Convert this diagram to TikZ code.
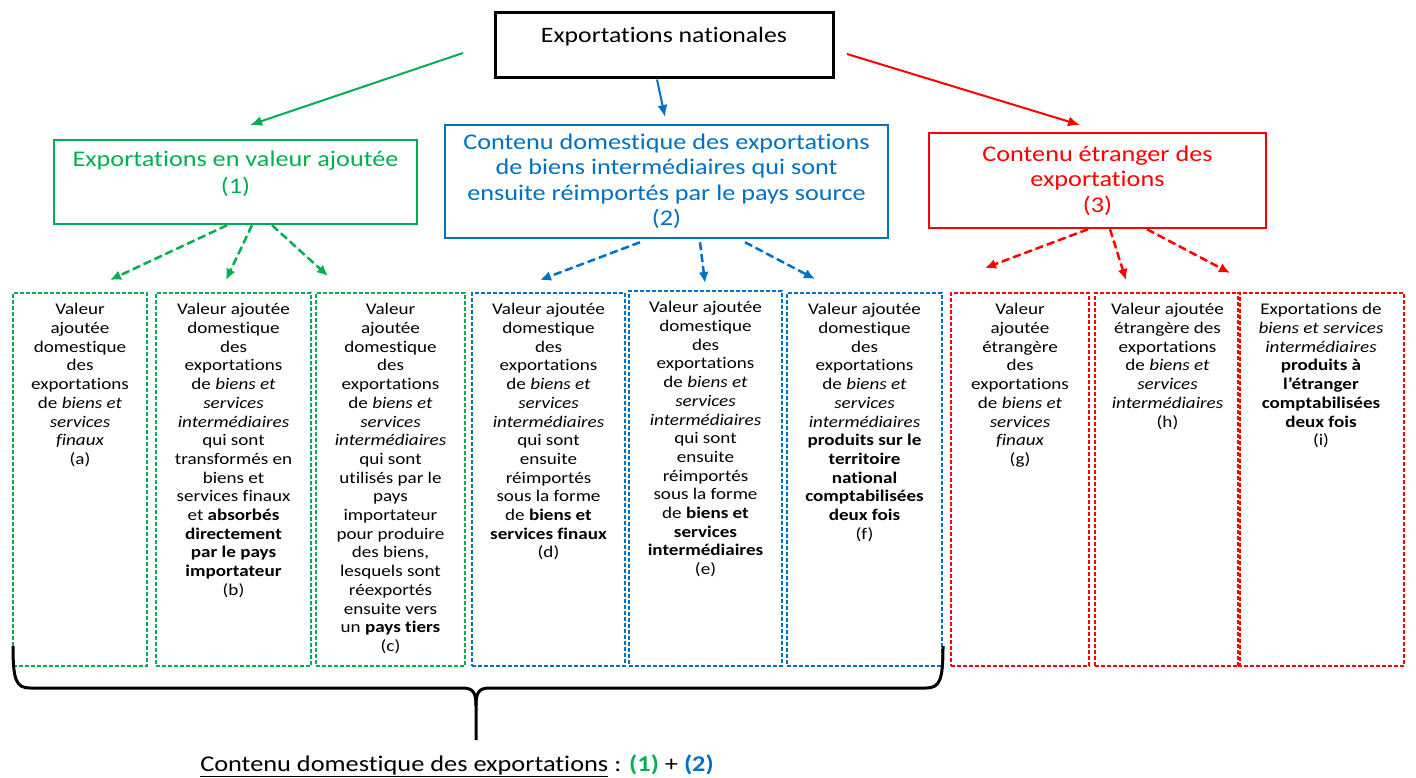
\documentclass[tikz,border=0pt]{standalone}
\usepackage{fontspec}
\setmainfont{Carlito}[FakeStretch=1.17, Ligatures=NoCommon]
\usetikzlibrary{arrows.meta}
\definecolor{eGreen}{RGB}{0,176,80}
\definecolor{eBlue}{RGB}{0,112,192}
\definecolor{eRed}{RGB}{255,0,0}
\tikzset{
    rootbox/.style={draw, line width=3pt, inner sep=0pt, minimum width=338pt, minimum height=65pt},
    groupbox/.style={draw=#1, text=#1, line width=2.5pt, inner sep=0pt, align=center, font=\fontsize{22.4}{25.5}\selectfont},
    leafbox/.style={draw=#1, line width=1.3pt, dash pattern=on 4pt off 2pt, inner sep=0pt, minimum height=373pt},
    leaftext/.style={anchor=north, inner sep=0pt, align=center, font=\fontsize{16.3}{18.7}\selectfont},
    mainarrow/.style={draw=#1, fill=#1, line width=2pt, -{Latex[length=12pt,width=10pt]}},
    subarrow/.style={draw=#1, fill=#1, line width=2.5pt, dash pattern=on 8pt off 4pt, -{Latex[length=11pt,width=10pt]}}
}

\begin{document}
\begin{tikzpicture}[x=1pt,y=-1pt]
\useasboundingbox (0,0) rectangle (1416,778);
\node[rootbox] (nat) at (664,45.5) {};
\node[font=\fontsize{22}{26}\selectfont] (natT) at (664,37) {Exportations nationales};
\node[groupbox=eGreen, minimum width=363pt, minimum height=84pt, font=\fontsize{22.4}{27}\selectfont] (va) at (235.5,182) {Exportations en valeur ajoutée\\(1)\\[-8pt]\mbox{}};
\node[groupbox=eBlue, minimum width=443pt, minimum height=113pt] (cdr) at (666.5,181.5) {Contenu domestique des exportations\\de biens intermédiaires qui sont\\ensuite réimportés par le pays source\\(2)};
\node[groupbox=eRed, minimum width=337pt, minimum height=95pt] (ce) at (1097.5,180.5) {Contenu étranger des\\exportations\\(3)};
\coordinate (gStart) at (463,53);
\coordinate (gEnd) at (250,125);
\coordinate (bEnd) at (665,117);
\coordinate (rStart) at (847,54);
\coordinate (rEnd) at (1080,125);
\draw[mainarrow=eGreen] (gStart) -- (gEnd);
\draw[mainarrow=eBlue] ([xshift=-7pt]nat.south) -- (bEnd);
\draw[mainarrow=eRed] (rStart) -- (rEnd);
\node[leafbox=eGreen, minimum width=134pt] (a) at (80,479.5) {};
\node[leafbox=eGreen, minimum width=155pt] (b) at (233.5,479.5) {};
\node[leafbox=eGreen, minimum width=149pt] (c) at (390.5,479.5) {};
\node[leafbox=eBlue, minimum width=153pt] (d) at (548.5,479.5) {};
\node[leafbox=eBlue, minimum width=153pt, minimum height=375pt] (e) at (705.5,478.5) {};
\node[leafbox=eBlue, minimum width=155pt] (f) at (864.5,479.5) {};
\node[leafbox=eRed, minimum width=138pt] (g) at (1020,479.5) {};
\node[leafbox=eRed, minimum width=145pt] (h) at (1167.5,479.5) {};
\node[leafbox=eRed, minimum width=166pt] (i) at (1321,479.5) {};
\node[leaftext] (aT) at ([yshift=-11pt]a.north) {Valeur\\ajoutée\\domestique\\des\\exportations\\de \textit{biens et}\\\textit{services}\\\textit{finaux}\\(a)};
\node[leaftext] (bT) at ([yshift=-11pt]b.north) {Valeur ajoutée\\domestique\\des\\exportations\\de \textit{biens et}\\\textit{services}\\\textit{intermédiaires}\\qui sont\\transformés en\\biens et\\services finaux\\et \textbf{absorbés}\\\textbf{directement}\\\textbf{par le pays}\\\textbf{importateur}\\(b)};
\node[leaftext] (cT) at ([yshift=-11pt]c.north) {Valeur\\ajoutée\\domestique\\des\\exportations\\de \textit{biens et}\\\textit{services}\\\textit{intermédiaires}\\qui sont\\utilisés par le\\pays\\importateur\\pour produire\\des biens,\\lesquels sont\\réexportés\\ensuite vers\\un \textbf{pays tiers}\\(c)};
\node[leaftext] (dT) at ([yshift=-11pt]d.north) {Valeur ajoutée\\domestique\\des\\exportations\\de \textit{biens et}\\\textit{services}\\\textit{intermédiaires}\\qui sont\\ensuite\\réimportés\\sous la forme\\de \textbf{biens et}\\\textbf{services finaux}\\(d)};
\node[leaftext] (eT) at ([yshift=-11pt]e.north) {Valeur ajoutée\\domestique\\des\\exportations\\de \textit{biens et}\\\textit{services}\\\textit{intermédiaires}\\qui sont\\ensuite\\réimportés\\sous la forme\\de \textbf{biens et}\\\textbf{services}\\\textbf{intermédiaires}\\(e)};
\node[leaftext] (fT) at ([yshift=-11pt]f.north) {Valeur ajoutée\\domestique\\des\\exportations\\de \textit{biens et}\\\textit{services}\\\textit{intermédiaires}\\\textbf{produits sur le}\\\textbf{territoire}\\\textbf{national}\\\textbf{comptabilisées}\\\textbf{deux fois}\\(f)};
\node[leaftext] (gT) at ([yshift=-11pt]g.north) {Valeur\\ajoutée\\étrangère\\des\\exportations\\de \textit{biens et}\\\textit{services}\\\textit{finaux}\\(g)};
\node[leaftext] (hT) at ([yshift=-11pt]h.north) {Valeur ajoutée\\étrangère des\\exportations\\de \textit{biens et}\\\textit{services}\\\textit{intermédiaires}\\(h)};
\node[leaftext] (iT) at ([yshift=-11pt]i.north) {Exportations de\\\textit{biens et services}\\\textit{intermédiaires}\\\textbf{produits à}\\\textbf{l’étranger}\\\textbf{comptabilisées}\\\textbf{deux fois}\\(i)};
\coordinate (toA) at (110,280);
\coordinate (toB) at (226,280);
\coordinate (toC) at (328,276);
\coordinate (toD) at (540,280);
\coordinate (toE) at (705,283);
\coordinate (toF) at (815,279);
\coordinate (toG) at (985,268);
\coordinate (toH) at (1126,280);
\coordinate (toI) at (1230,273);
\draw[subarrow=eGreen] ([xshift=-8.5pt]va.south) -- (toA);
\draw[subarrow=eGreen] ([xshift=16.5pt]va.south) -- (toB);
\draw[subarrow=eGreen] ([xshift=36.5pt]va.south) -- (toC);
\draw[subarrow=eBlue] ([xshift=-26.5pt,yshift=-3pt]cdr.south) -- (toD);
\draw[subarrow=eBlue] ([xshift=33.5pt,yshift=-3pt]cdr.south) -- (toE);
\draw[subarrow=eBlue] ([xshift=78.5pt,yshift=-3pt]cdr.south) -- (toF);
\draw[subarrow=eRed] ([xshift=-9.5pt]ce.south) -- (toG);
\draw[subarrow=eRed] ([xshift=12.5pt]ce.south) -- (toH);
\draw[subarrow=eRed] ([xshift=49.5pt]ce.south) -- (toI);
\draw[line width=3pt] (13,646) .. controls (13,680) and (16,688) .. (30,688) -- (462,688) .. controls (473,688) and (476,692) .. (476,706) -- (476,740);
\draw[line width=3pt] (476,706) .. controls (476,692) and (479,688) .. (490,688) -- (926,688) .. controls (940,688) and (943,680) .. (943,646);
\node[font=\fontsize{22.5}{26}\selectfont] (sum) at (457,766) {\underline{Contenu domestique des exportations} : \textbf{\textcolor{eGreen}{(1)}} + \textbf{\textcolor{eBlue}{(2)}}};
\end{tikzpicture}
\end{document}
